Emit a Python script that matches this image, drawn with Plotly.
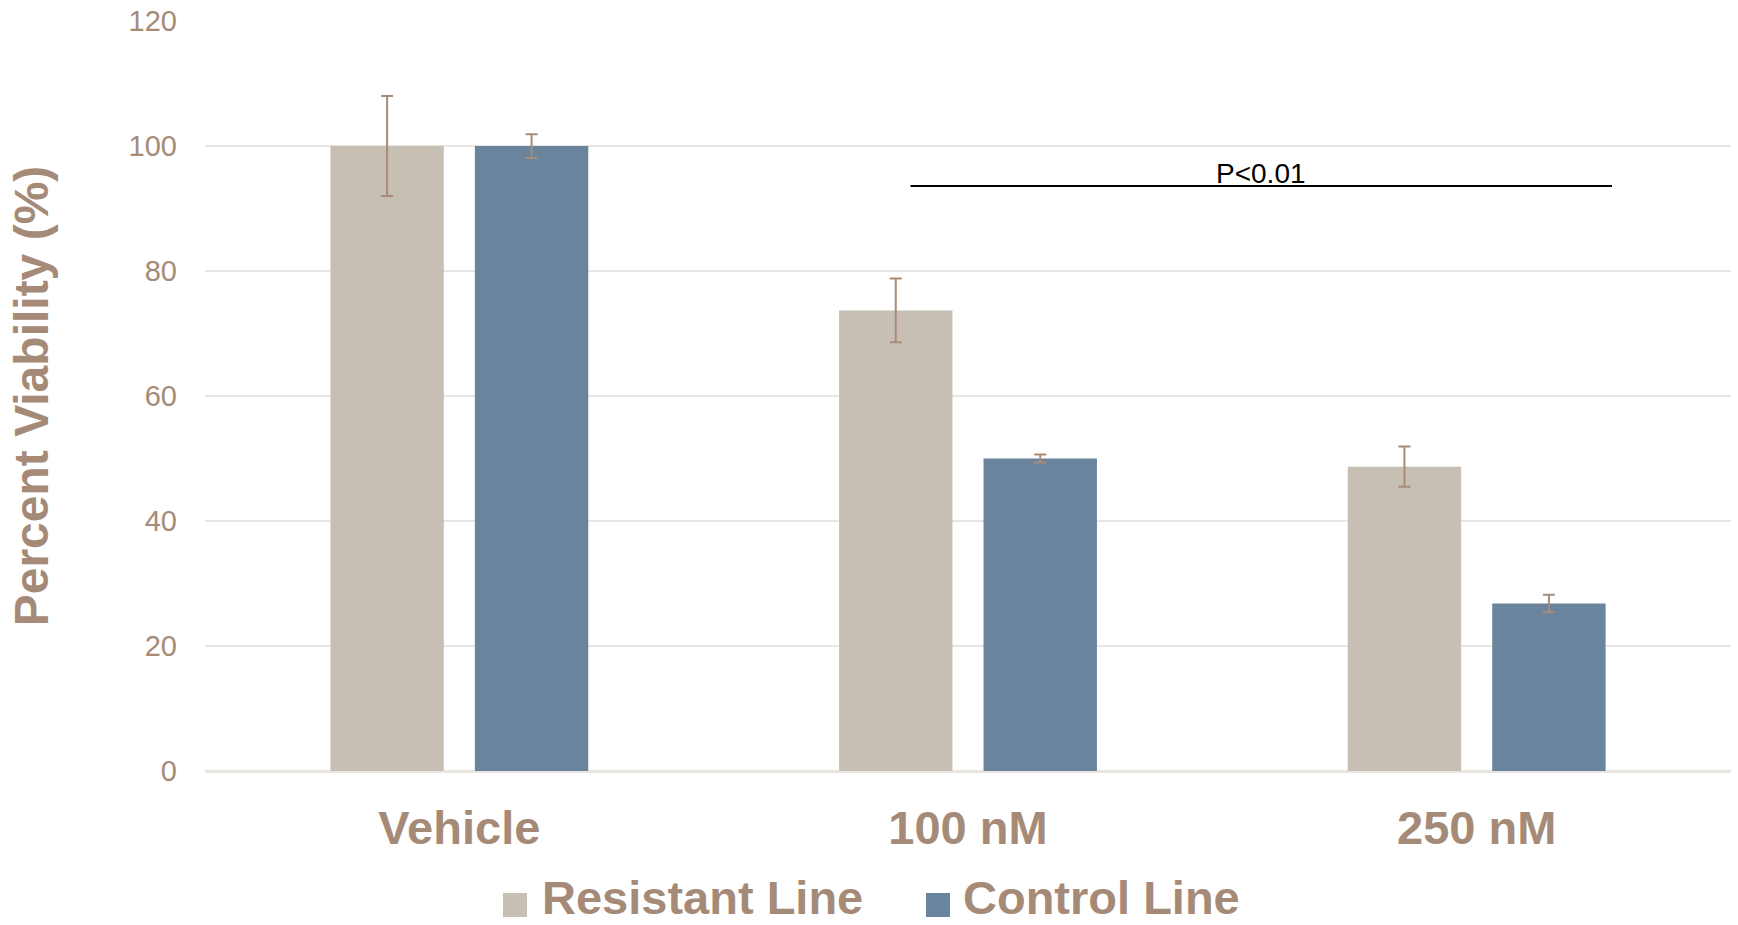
import plotly.graph_objects as go

# ---- data ----
categories = ["Vehicle", "100 nM", "250 nM"]
series_names = ["Resistant Line", "Control Line"]
resistant_values = [100.0, 73.7, 48.7]
resistant_errors = [8.0, 5.1, 3.2]
control_values = [100.0, 50.0, 26.8]
control_errors = [1.9, 0.65, 1.4]
y_ticks = [0, 20, 40, 60, 80, 100, 120]
p_label = "P<0.01"
p_bracket_x = [0.887, 2.266]   # category-axis units
p_bracket_y = 93.6

# ---- style ----
RES_COLOR = "#C7BFB4"
CTL_COLOR = "#6A849D"
TEXT_COLOR = "#A58B77"
ERR_COLOR = "#A68C78"
GRID_COLOR = "#E9E5E1"
FONT = "Liberation Sans, Arial, sans-serif"

W, H = 1738, 925
L, R, T, B = 205, 7, 21, 154
plot_w = W - L - R
plot_h = H - T - B

fig = go.Figure()
fig.add_trace(go.Bar(
    x=categories, y=resistant_values, name=series_names[0],
    marker=dict(color=RES_COLOR, line=dict(width=0)),
    error_y=dict(type="data", array=resistant_errors, visible=True,
                 color=ERR_COLOR, thickness=2, width=6),
    showlegend=False,
))
fig.add_trace(go.Bar(
    x=categories, y=control_values, name=series_names[1],
    marker=dict(color=CTL_COLOR, line=dict(width=0)),
    error_y=dict(type="data", array=control_errors, visible=True,
                 color=ERR_COLOR, thickness=2, width=6),
    showlegend=False,
))

# significance bracket
fig.add_shape(type="line", xref="x", yref="y",
              x0=p_bracket_x[0], x1=p_bracket_x[1], y0=p_bracket_y, y1=p_bracket_y,
              line=dict(color="black", width=2))
fig.add_annotation(x=(p_bracket_x[0] + p_bracket_x[1]) / 2, y=p_bracket_y,
                   xref="x", yref="y", text=p_label, showarrow=False,
                   yanchor="bottom", yshift=-5,
                   font=dict(family=FONT, size=28, color="black"))

# manual legend (larger swatches)
def px_x(px):
    return (px - L) / plot_w

def px_y(py):
    return (H - B - py) / plot_h

legend_items = [
    (series_names[0], RES_COLOR, 503, 541),
    (series_names[1], CTL_COLOR, 926, 962),
]
for name, color, sx, tx in legend_items:
    fig.add_shape(type="rect", xref="paper", yref="paper",
                  x0=px_x(sx), x1=px_x(sx + 24), y0=px_y(893), y1=px_y(917),
                  fillcolor=color, line=dict(width=0), layer="above")
    fig.add_annotation(x=px_x(tx), y=px_y(H), xref="paper", yref="paper",
                       text=f"<b>{name}</b>", showarrow=False,
                       xanchor="left", yanchor="bottom", borderpad=0,
                       font=dict(family=FONT, size=47, color=TEXT_COLOR))

fig.update_layout(
    width=W, height=H,
    margin=dict(l=L, r=R, t=T, b=B, autoexpand=False),
    paper_bgcolor="white", plot_bgcolor="white",
    barmode="group", bargap=0.432, bargroupgap=0.215,
    showlegend=False,
    font=dict(family=FONT, color=TEXT_COLOR),
)
fig.update_xaxes(
    type="category",
    tickfont=dict(family=FONT, size=47, color=TEXT_COLOR, weight="bold"),
    showline=True, linecolor=GRID_COLOR, linewidth=2,
    showgrid=False, ticks="", ticklabelstandoff=15,
    range=[-0.5, 2.5], automargin=False,
)
fig.update_yaxes(
    range=[0, 120], tickvals=y_ticks,
    tickfont=dict(family=FONT, size=29, color=TEXT_COLOR),
    showgrid=True, gridcolor=GRID_COLOR, gridwidth=2,
    zeroline=True, zerolinecolor=GRID_COLOR, zerolinewidth=2,
    showline=False, ticks="", ticklabelstandoff=27,
    title=dict(text="<b>Percent Viability (%)</b>", standoff=64,
               font=dict(family=FONT, size=48, color=TEXT_COLOR)),
    automargin=False,
)

fig.write_html("out.html")
